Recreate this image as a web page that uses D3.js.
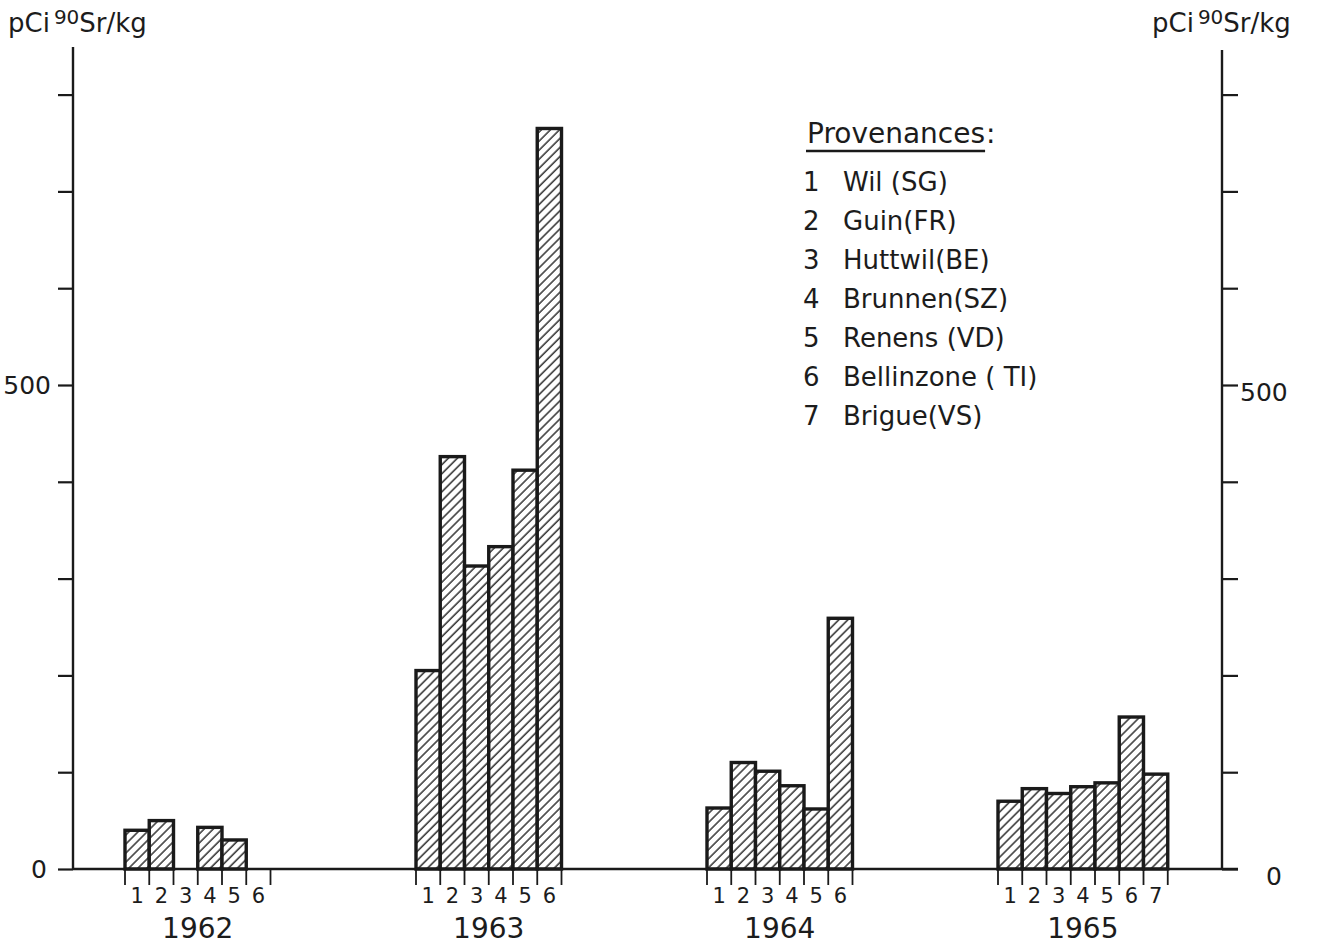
<!DOCTYPE html>
<html><head><meta charset="utf-8">
<script src="https://cdn.jsdelivr.net/npm/d3@7"></script>
<style>
html,body{margin:0;padding:0;background:#fff;}
text{font-family:"DejaVu Sans",sans-serif;fill:#1c1c1c;}
</style></head>
<body>
<svg id="chart" width="1317" height="947"></svg>
<script>
// ---- data ----
const years = ["1962", "1963", "1964", "1965"];
const slotsPerYear = [6, 6, 6, 7];
const values1962 = [40, 50, null, 43, 30, null];
const values1963 = [205, 426, 313, 333, 412, 765];
const values1964 = [63, 110, 101, 86, 62, 259];
const values1965 = [70, 83, 78, 85, 89, 157, 98];
const yearValues = [values1962, values1963, values1964, values1965];
const yTicks = [0, 100, 200, 300, 400, 500, 600, 700, 800];
const yTickLabels = {0: "0", 500: "500"};
const legendTitle = "Provenances";
const legendNums = ["1", "2", "3", "4", "5", "6", "7"];
const legendNames = ["Wil (SG)", "Guin(FR)", "Huttwil(BE)", "Brunnen(SZ)", "Renens (VD)", "Bellinzone ( TI)", "Brigue(VS)"];

// ---- layout ----
const svg = d3.select("#chart");
const FONT = "'DejaVu Sans',sans-serif";
const xLeftAxis = 73, xRightAxis = 1222;
const y = d3.scaleLinear().domain([0, 500]).range([869, 385]);
const slot = d3.scaleLinear().domain([0, 1]).range([125, 125 + 24.25]); // slot index -> x
const period = 12;

const defs = svg.append("defs");
const pat = defs.append("pattern").attr("id", "hatch")
  .attr("patternUnits", "userSpaceOnUse").attr("width", 6.4).attr("height", 6.4)
  .attr("patternTransform", "rotate(45)");
pat.append("rect").attr("width", 6.4).attr("height", 6.4).attr("fill", "#fff");
pat.append("line").attr("x1", 1).attr("y1", 0).attr("x2", 1).attr("y2", 6.4)
  .attr("stroke", "#222").attr("stroke-width", 1.4);

// bars
const bars = [];
yearValues.forEach((vals, yi) => {
  vals.forEach((v, i) => {
    if (v != null) bars.push({s: yi * period + i, v});
  });
});
svg.append("g").selectAll("rect").data(bars).join("rect")
  .attr("x", d => slot(d.s))
  .attr("width", d => slot(d.s + 1) - slot(d.s))
  .attr("y", d => y(d.v))
  .attr("height", d => y(0) - y(d.v))
  .attr("fill", "url(#hatch)")
  .attr("stroke", "#1a1a1a").attr("stroke-width", 3.4);

// baseline
svg.append("line").attr("x1", xLeftAxis).attr("x2", xRightAxis + 16)
  .attr("y1", y(0)).attr("y2", y(0)).attr("stroke", "#1a1a1a").attr("stroke-width", 2.4);

// left axis
const leftAxis = d3.axisLeft(y).tickValues(yTicks).tickSize(15).tickPadding(7)
  .tickFormat(d => yTickLabels[d] || "");
const gl = svg.append("g").attr("transform", `translate(${xLeftAxis},0)`).call(leftAxis);
gl.select(".domain").remove();
gl.append("line").attr("x1", 0).attr("x2", 0).attr("y1", 47).attr("y2", y(0))
  .attr("stroke", "#1a1a1a").attr("stroke-width", 2.4);
gl.selectAll(".tick line").attr("stroke", "#1a1a1a").attr("stroke-width", 2.2);
gl.selectAll(".tick text").style("font-size", "25px").attr("fill", "#1c1c1c")
  .attr("x", d => d === 0 ? -26 : -22)
  .style("font-family", FONT);

// right axis
const rightAxis = d3.axisRight(y).tickValues(yTicks).tickSize(16).tickPadding(34)
  .tickFormat(d => yTickLabels[d] || "");
const gr = svg.append("g").attr("transform", `translate(${xRightAxis},0)`).call(rightAxis);
gr.select(".domain").remove();
gr.append("line").attr("x1", 0).attr("x2", 0).attr("y1", 50).attr("y2", y(0))
  .attr("stroke", "#1a1a1a").attr("stroke-width", 2.4);
gr.selectAll(".tick line").attr("stroke", "#1a1a1a").attr("stroke-width", 2.2);
gr.selectAll(".tick text").style("font-size", "25px").attr("fill", "#1c1c1c")
  .attr("x", d => d === 0 ? 44 : 18).attr("dy", "0.62em")
  .style("font-family", FONT);

// axis titles
function axisTitle(x) {
  const t = svg.append("text").attr("x", x).attr("y", 32).style("font-size", "26px");
  t.append("tspan").text("pCi");
  t.append("tspan").attr("dx", 4).attr("dy", -8).style("font-size", "20px").text("90");
  t.append("tspan").attr("dy", 8).text("Sr/kg");
}
axisTitle(8);
axisTitle(1152);

// bottom slot ticks and labels
const gx = svg.append("g");
years.forEach((yr, yi) => {
  const n = slotsPerYear[yi];
  const start = yi * period;
  const edges = d3.range(n + 1).map(k => start + k);
  gx.selectAll(null).data(edges).join("line")
    .attr("x1", d => slot(d)).attr("x2", d => slot(d))
    .attr("y1", y(0)).attr("y2", y(0) + 16)
    .attr("stroke", "#1a1a1a").attr("stroke-width", 1.8);
  gx.selectAll(null).data(d3.range(n)).join("text")
    .attr("x", d => slot(start + d + 0.5)).attr("y", y(0) + 34)
    .attr("text-anchor", "middle").style("font-size", "21px")
    .text(d => String(d + 1));
  gx.append("text").attr("x", slot(start + n / 2)).attr("y", y(0) + 69)
    .attr("text-anchor", "middle").style("font-size", "28px").text(yr);
});

// legend
const lg = svg.append("g");
const titleT = lg.append("text").attr("x", 807).attr("y", 143).style("font-size", "28px").text(legendTitle);
const tw = titleT.node().getComputedTextLength();
lg.append("text").attr("x", 807 + tw + 1).attr("y", 143).style("font-size", "28px").text(":");
lg.append("line").attr("x1", 806).attr("x2", 807 + tw).attr("y1", 151).attr("y2", 151)
  .attr("stroke", "#1a1a1a").attr("stroke-width", 2.4);
legendNames.forEach((nm, i) => {
  lg.append("text").attr("x", 803).attr("y", 191 + i * 39).style("font-size", "26px").text(legendNums[i]);
  lg.append("text").attr("x", 843).attr("y", 191 + i * 39).style("font-size", "26px").text(nm);
});
</script>
</body></html>
